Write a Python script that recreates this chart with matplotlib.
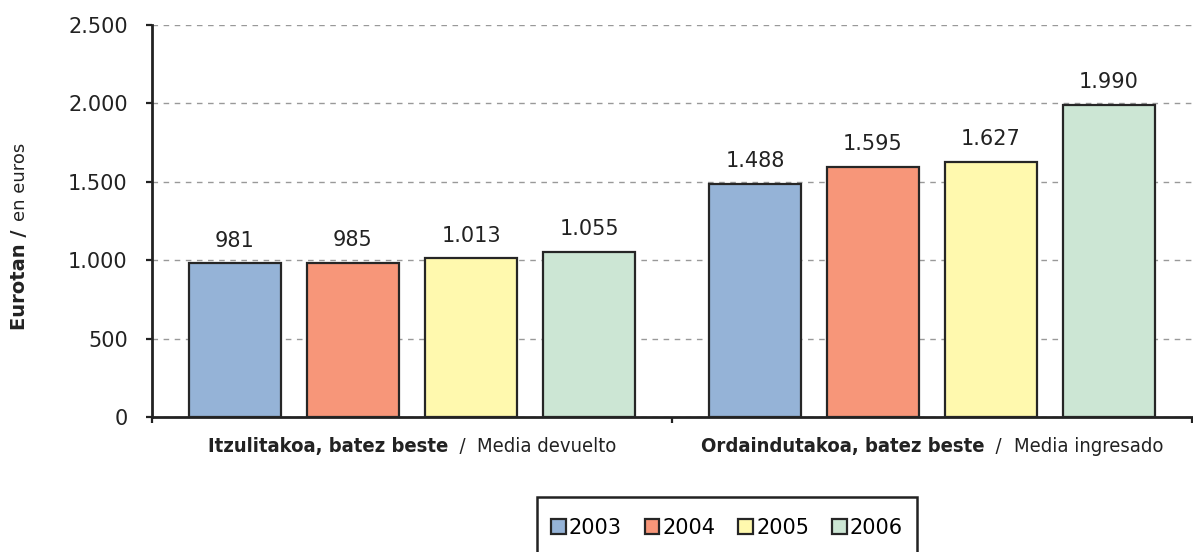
import numpy as np
import matplotlib
matplotlib.use("Agg")
from matplotlib import pyplot as plt
from matplotlib.offsetbox import TextArea, HPacker, AnnotationBbox
from matplotlib.patches import Patch, Rectangle
from matplotlib.ticker import FuncFormatter

plt.rcParams['font.family'] = ['DejaVu Sans']

# Data
years = ["2003", "2004", "2005", "2006"]
groups_bold = ["Itzulitakoa, batez beste", "Ordaindutakoa, batez beste"]
groups_regular = ["Media devuelto", "Media ingresado"]
values = {
    "2003": [981, 1488],
    "2004": [985, 1595],
    "2005": [1013, 1627],
    "2006": [1055, 1990],
}
colors = ["#95B3D7", "#F79679", "#FFF9AE", "#CCE6D4"]
ink = "#222222"


def fmt_thousands(v):
    return "{:,.0f}".format(v).replace(",", ".")


W, H = 1193, 552
fig = plt.figure(figsize=(W / 100, H / 100), dpi=100)
ax = fig.add_axes([152 / W, (H - 417) / H, (1192 - 152) / W, (417 - 25) / H])

x = np.arange(len(groups_bold))
bar_w = 0.177
step = 0.227
offsets = (np.arange(len(years)) - 1.5) * step

for i, yr in enumerate(years):
    bars = ax.bar(x + offsets[i], values[yr], width=bar_w, color=colors[i],
                  edgecolor="#262626", linewidth=1.6, zorder=3)
    for b, v in zip(bars, values[yr]):
        ax.annotate(fmt_thousands(v), (b.get_x() + b.get_width() / 2, v),
                    xytext=(0, 9), textcoords="offset points",
                    ha="center", va="bottom", fontsize=15, color=ink)

# Axes styling
ax.set_xlim(-0.5, 1.5)
ax.set_ylim(0, 2500)
ax.set_yticks(np.arange(0, 2501, 500))
ax.yaxis.set_major_formatter(FuncFormatter(lambda v, p: fmt_thousands(v)))
ax.tick_params(axis="y", labelsize=15, length=4.5, width=1.6, color=ink,
               labelcolor=ink, pad=13)
ax.set_xticks([-0.5, 0.5, 1.5])
ax.set_xticklabels([])
ax.tick_params(axis="x", length=4.5, width=1.6, color=ink)
ax.spines["top"].set_visible(False)
ax.spines["right"].set_visible(False)
for s in ["left", "bottom"]:
    ax.spines[s].set_linewidth(2)
    ax.spines[s].set_color(ink)
ax.yaxis.grid(True, linestyle=(0, (4, 4)), color="#999999", linewidth=1, zorder=0)
ax.set_axisbelow(True)

# Category labels: bold part / regular part
cat_font = dict(fontsize=14.5, color=ink, fontstretch="condensed")
for xi, bold, reg in zip(x, groups_bold, groups_regular):
    pack = HPacker(children=[
        TextArea(bold, textprops=dict(fontweight="bold", **cat_font)),
        TextArea("  /  ", textprops=cat_font),
        TextArea(reg, textprops=cat_font),
    ], align="baseline", pad=0, sep=0)
    ab = AnnotationBbox(pack, (xi, 0), xybox=(0, -21), xycoords=("data", "axes fraction"),
                        boxcoords="offset points", frameon=False, box_alignment=(0.5, 0.5))
    ax.add_artist(ab)

# Y axis label
fig.text(20 / W, (H - 230) / H, "Eurotan /", rotation=90, ha="center", va="top",
         fontsize=14, fontweight="bold", color=ink)
fig.text(20 / W, (H - 221) / H, "en euros", rotation=90, ha="center", va="bottom",
         fontsize=13, color=ink)

# Legend (frame drawn separately so it runs off the bottom edge like the original)
handles = [Patch(facecolor=c, edgecolor="#262626", linewidth=1.6) for c in colors]
leg = fig.legend(handles, years, loc="center", bbox_to_anchor=(727 / W, (H - 528) / H),
                 ncol=4, fontsize=15, frameon=False,
                 handlelength=0.7, handleheight=0.7, handletextpad=0.15,
                 columnspacing=1.1, borderpad=0, borderaxespad=0)
fig.patches.append(Rectangle((537 / W, -10 / H), (917 - 537) / W, (H - 497 + 10) / H,
                             transform=fig.transFigure, fill=False,
                             edgecolor=ink, linewidth=1.8))

fig.savefig("out.png", dpi=100)
